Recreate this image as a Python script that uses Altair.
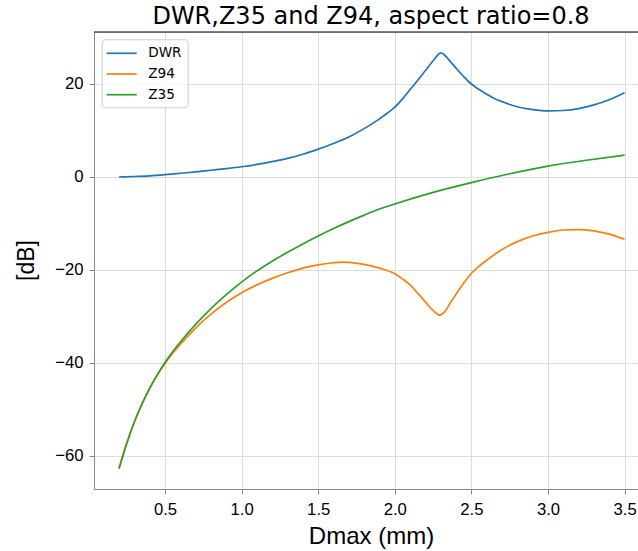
import altair as alt
import pandas as pd

# ---- data ----
DWR_D = [0.2, 0.3, 0.4, 0.5, 0.6, 0.7, 0.8, 0.9, 1.0, 1.1, 1.2, 1.3, 1.4, 1.5, 1.6, 1.7,
         1.8, 1.9, 1.95, 2.0, 2.05, 2.1, 2.15, 2.2, 2.25, 2.28, 2.3, 2.32, 2.35, 2.4, 2.45,
         2.5, 2.55, 2.6, 2.65, 2.7, 2.8, 2.9, 3.0, 3.1, 3.2, 3.3, 3.4, 3.5]
DWR = [0.0, 0.1, 0.25, 0.5, 0.8, 1.1, 1.45, 1.8, 2.2, 2.7, 3.3, 4.0, 4.9, 6.0, 7.2, 8.6,
       10.4, 12.5, 13.7, 15.0, 16.8, 18.8, 20.8, 22.9, 25.0, 26.2, 26.7, 26.4, 25.3, 23.4,
       21.6, 20.0, 18.8, 17.8, 16.9, 16.2, 15.1, 14.5, 14.2, 14.3, 14.7, 15.5, 16.6, 18.1]

Z94_D = [0.2, 0.25, 0.3, 0.35, 0.4, 0.45, 0.5, 0.55, 0.6, 0.7, 0.8, 0.9, 1.0, 1.1, 1.2,
         1.3, 1.4, 1.5, 1.6, 1.65, 1.7, 1.8, 1.9, 2.0, 2.05, 2.1, 2.15, 2.2, 2.25, 2.29,
         2.33, 2.36, 2.4, 2.45, 2.5, 2.55, 2.6, 2.7, 2.8, 2.9, 3.0, 3.1, 3.2, 3.3, 3.4, 3.5]
Z94 = [-62.7, -57.3, -52.7, -48.8, -45.5, -42.6, -40.1, -37.9, -36.0, -32.5, -29.5,
       -27.0, -24.9, -23.2, -21.8, -20.6, -19.6, -18.9, -18.45, -18.3, -18.35, -18.8,
       -19.6, -20.8, -21.9, -23.2, -25.0, -26.9, -28.7, -29.7, -28.8, -27.2, -25.2,
       -22.8, -20.7, -19.2, -17.9, -15.6, -13.9, -12.7, -11.9, -11.4, -11.3, -11.6,
       -12.3, -13.4]

Z35_D = [0.2, 0.25, 0.3, 0.35, 0.4, 0.45, 0.5, 0.55, 0.6, 0.7, 0.8, 0.9, 1.0, 1.1, 1.2,
         1.3, 1.4, 1.5, 1.6, 1.7, 1.8, 1.9, 2.0, 2.25, 2.5, 2.75, 3.0, 3.25, 3.5]
Z35 = [-62.7, -57.3, -52.7, -48.8, -45.4, -42.5, -39.9, -37.6, -35.5, -31.7, -28.3,
       -25.3, -22.6, -20.2, -18.1, -16.2, -14.4, -12.7, -11.1, -9.6, -8.2, -6.9, -5.8,
       -3.3, -1.2, 0.7, 2.35, 3.6, 4.7]

SERIES = ["DWR", "Z94", "Z35"]
COLORS = ["#1f77b4", "#ff7f0e", "#2ca02c"]
X_TICKS = [0.5, 1.0, 1.5, 2.0, 2.5, 3.0, 3.5]
Y_TICKS = [-60, -40, -20, 0, 20]

rows = []
for name, xs, ys in [("DWR", DWR_D, DWR), ("Z94", Z94_D, Z94), ("Z35", Z35_D, Z35)]:
    for i, (x, y) in enumerate(zip(xs, ys)):
        rows.append({"D": x, "v": y, "s": name, "o": i})
df = pd.DataFrame(rows)

FONT = "DejaVu Sans"
W, H = 544, 457

lines = alt.Chart(df).mark_line(strokeWidth=1.7, interpolate="monotone").encode(
    x=alt.X("D:Q",
            scale=alt.Scale(domain=[0.0366, 3.5875], nice=False, zero=False),
            axis=alt.Axis(values=X_TICKS, format=".1f", title="Dmax (mm)",
                          titleFontSize=24, titleFontWeight="normal", titleX=277, titleY=54,
                          titleAlign="center", titleBaseline="alphabetic",
                          labelFontSize=16.7, labelPadding=20, labelBaseline="alphabetic",
                          labelFlush=False)),
    y=alt.Y("v:Q",
            scale=alt.Scale(domain=[-67.1, 31.18], nice=False, zero=False),
            axis=alt.Axis(values=Y_TICKS, title="[dB]", titleFontSize=23,
                          titleFontWeight="normal",
                          titleAngle=270, titleX=-68, titleY=228,
                          titleAlign="center", titleBaseline="middle",
                          labelFontSize=16.7, labelPadding=6)),
    color=alt.Color("s:N",
                    scale=alt.Scale(domain=SERIES, range=COLORS),
                    legend=alt.Legend(title=None, orient="none", legendX=7.7, legendY=7.3,
                                      symbolType="M-2,0H2", symbolSize=225,
                                      symbolStrokeWidth=1.7, symbolOffset=6,
                                      labelOffset=18, rowPadding=4.7, padding=5.5,
                                      labelFontSize=13.6, labelFont=FONT,
                                      labelColor="black", labelBaseline="middle",
                                      fillColor="rgba(255,255,255,0.8)",
                                      strokeColor="#cccccc", cornerRadius=3)),
    order="o:Q",
)

top_spine = alt.Chart(pd.DataFrame({"k": [0]})).mark_rule(
    color="black", strokeWidth=1.1).encode(
    x=alt.value(0), x2=alt.value(W), y=alt.value(0))

chart = alt.layer(lines, top_spine).properties(
    width=W, height=H,
    autosize=alt.AutoSizeParams(type="none"),
    padding={"left": 94, "top": 32, "right": 0, "bottom": 62},
    title=alt.TitleParams(text="DWR,Z35 and Z94, aspect ratio=0.8", fontSize=24,
                          font=FONT, fontWeight="normal", color="black",
                          anchor="middle", frame="group", dx=5, dy=26, offset=9,
                          baseline="alphabetic"),
).configure_view(stroke=None).configure_axis(
    labelFont=FONT, titleFont=FONT, labelColor="black", titleColor="black",
    titleFontWeight="normal", domainColor="black", domainWidth=1.1,
    tickColor="black", tickWidth=1.1, tickSize=5,
    gridColor="#b0b0b0", gridWidth=1.1, grid=True,
).configure(background="white")

chart.save("out.html", embed_options={"renderer": "svg", "actions": False})
